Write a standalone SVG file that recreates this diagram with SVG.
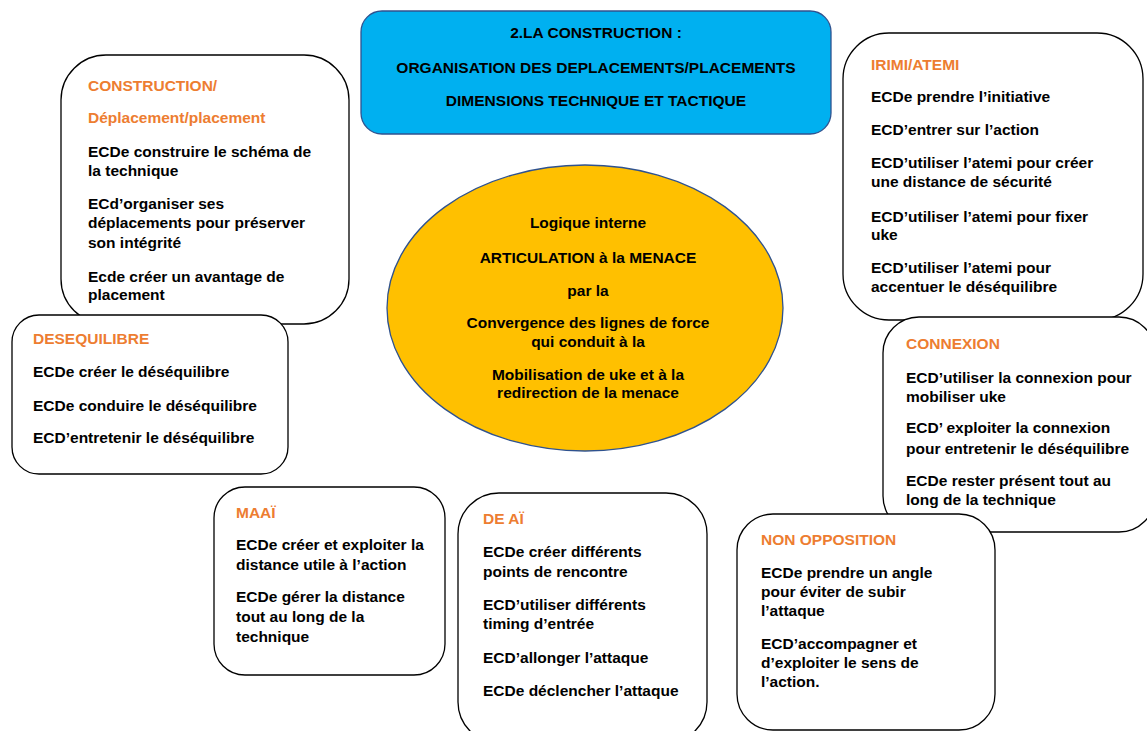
<svg xmlns="http://www.w3.org/2000/svg" width="1147" height="731" viewBox="0 0 1147 731">
<style>
.box{fill:#fff;stroke:#000;stroke-width:1.3}
text{font-family:"Liberation Sans",Arial,sans-serif;font-weight:bold;font-size:15.5px;fill:#000}
.h{fill:#ED7D31}
.c{text-anchor:middle}
</style>
<rect width="1147" height="731" fill="#fff"/>
<g id="construction">
<rect class="box" x="61" y="55" width="288" height="269" rx="45"/>
<text class="h" x="88" y="91">CONSTRUCTION/</text>
<text class="h" x="88" y="123">Déplacement/placement</text>
<text x="88" y="157">ECDe construire le schéma de</text>
<text x="88" y="176">la technique</text>
<text x="88" y="209">ECd’organiser ses</text>
<text x="88" y="228">déplacements pour préserver</text>
<text x="88" y="248">son intégrité</text>
<text x="88" y="282">Ecde créer un avantage de</text>
<text x="88" y="300">placement</text>
</g>
<g id="desequilibre">
<rect class="box" x="12" y="315" width="276" height="159" rx="27"/>
<text class="h" x="33" y="344">DESEQUILIBRE</text>
<text x="33" y="377">ECDe créer le déséquilibre</text>
<text x="33" y="411">ECDe conduire le déséquilibre</text>
<text x="33" y="443">ECD’entretenir le déséquilibre</text>
</g>
<g id="irimi">
<rect class="box" x="843" y="33" width="300" height="287" rx="46"/>
<text class="h" x="871" y="70">IRIMI/ATEMI</text>
<text x="871" y="102">ECDe prendre l’initiative</text>
<text x="871" y="135">ECD’entrer sur l’action</text>
<text x="871" y="168">ECD’utiliser l’atemi pour créer</text>
<text x="871" y="187">une distance de sécurité</text>
<text x="871" y="222">ECD’utiliser l’atemi pour fixer</text>
<text x="871" y="240">uke</text>
<text x="871" y="273">ECD’utiliser l’atemi pour</text>
<text x="871" y="292">accentuer le déséquilibre</text>
</g>
<g id="connexion">
<rect class="box" x="883" y="317" width="272" height="215" rx="36"/>
<text class="h" x="906" y="349">CONNEXION</text>
<text x="906" y="383">ECD’utiliser la connexion pour</text>
<text x="906" y="402">mobiliser uke</text>
<text x="906" y="433">ECD’ exploiter la connexion</text>
<text x="906" y="454">pour entretenir le déséquilibre</text>
<text x="906" y="486">ECDe rester présent tout au</text>
<text x="906" y="505">long de la technique</text>
</g>
<g id="nonopposition">
<rect class="box" x="737" y="514" width="258" height="216" rx="36"/>
<text class="h" x="761" y="545">NON OPPOSITION</text>
<text x="761" y="578">ECDe prendre un angle</text>
<text x="761" y="597">pour éviter de subir</text>
<text x="761" y="616">l’attaque</text>
<text x="761" y="649">ECD’accompagner et</text>
<text x="761" y="668">d’exploiter le sens de</text>
<text x="761" y="687">l’action.</text>
</g>
<g id="maai">
<rect class="box" x="214" y="487" width="231" height="188" rx="31"/>
<text class="h" x="236" y="518">MAAÏ</text>
<text x="236" y="550">ECDe créer et exploiter la</text>
<text x="236" y="570">distance utile à l’action</text>
<text x="236" y="602">ECDe gérer la distance</text>
<text x="236" y="622">tout au long de la</text>
<text x="236" y="642">technique</text>
</g>
<g id="deai">
<rect class="box" x="458" y="493" width="249" height="250" rx="41"/>
<text class="h" x="483" y="524">DE AÏ</text>
<text x="483" y="557">ECDe créer différents</text>
<text x="483" y="577">points de rencontre</text>
<text x="483" y="610">ECD’utiliser différents</text>
<text x="483" y="629">timing d’entrée</text>
<text x="483" y="663">ECD’allonger l’attaque</text>
<text x="483" y="696">ECDe déclencher l’attaque</text>
</g>
<g id="header">
<rect x="361" y="11" width="470" height="123" rx="21" fill="#00B0F0" stroke="#2F528F" stroke-width="1.3"/>
<text class="c" x="596" y="38">2.LA CONSTRUCTION :</text>
<text class="c" x="596" y="73">ORGANISATION DES DEPLACEMENTS/PLACEMENTS</text>
<text class="c" x="596" y="106">DIMENSIONS TECHNIQUE ET TACTIQUE</text>
</g>
<g id="logique">
<ellipse cx="585" cy="308" rx="198" ry="143" fill="#FFC000" stroke="#2F528F" stroke-width="1.3"/>
<text class="c" x="588" y="228">Logique interne</text>
<text class="c" x="588" y="263">ARTICULATION à la MENACE</text>
<text class="c" x="588" y="296">par la</text>
<text class="c" x="588" y="328">Convergence des lignes de force</text>
<text class="c" x="588" y="347">qui conduit à la</text>
<text class="c" x="588" y="380">Mobilisation de uke et à la</text>
<text class="c" x="588" y="398">redirection de la menace</text>
</g>
<g id="connectors"></g>
</svg>
